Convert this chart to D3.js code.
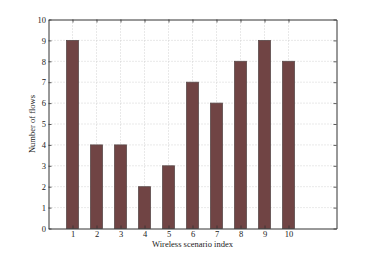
<!DOCTYPE html>
<html><head><meta charset="utf-8">
<script src="https://cdn.jsdelivr.net/npm/d3@7"></script>
<style>body{margin:0;background:#fff;}svg{display:block;}</style>
</head><body>
<script>
const categories = [1,2,3,4,5,6,7,8,9,10];
const flows = [9,4,4,2,3,7,6,8,9,8];
const yTicks = [0,1,2,3,4,5,6,7,8,9,10];
const xLabel = "Wireless scenario index";
const yLabel = "Number of flows";

(function(){
const W = 373, H = 257;
const m = {left:48.5, top:19.5, right:336.5, bottom:228.5};
const svg = d3.select("body").append("svg").attr("width",W).attr("height",H);
const x = d3.scaleLinear().domain([0,12]).range([m.left,m.right]);
const y = d3.scaleLinear().domain([0,10]).range([m.bottom,m.top]);
const font = "Liberation Serif, Times New Roman, serif";

// grid
const g = svg.append("g");
g.selectAll(".vg").data(categories).enter().append("line")
  .attr("x1",d=>x(d)).attr("x2",d=>x(d)).attr("y1",m.top).attr("y2",m.bottom)
  .attr("stroke","#c8c8c8").attr("stroke-width",0.8).attr("stroke-dasharray","1,2");
g.selectAll(".hg").data(yTicks.slice(1,-1)).enter().append("line")
  .attr("x1",m.left).attr("x2",m.right).attr("y1",d=>y(d)).attr("y2",d=>y(d))
  .attr("stroke","#c8c8c8").attr("stroke-width",0.8).attr("stroke-dasharray","1,2");

// bars
svg.selectAll(".bar").data(categories).enter().append("rect")
  .attr("x",(d)=>x(d-0.25)).attr("width",x(0.5)-x(0))
  .attr("y",(d,i)=>y(flows[i])).attr("height",(d,i)=>y(0)-y(flows[i]))
  .attr("fill","#704444").attr("stroke","#5a4a4a").attr("stroke-width",0.8);

// axes (ticks inward)
const tickLen = 3;
const axB = d3.axisBottom(x).tickValues(categories).tickSizeInner(-tickLen).tickSizeOuter(0).tickPadding(2).tickFormat(d3.format("d"));
const axT = d3.axisTop(x).tickValues(categories).tickSizeInner(-tickLen).tickSizeOuter(0).tickFormat("");
const axL = d3.axisLeft(y).tickValues(yTicks).tickSizeInner(-tickLen).tickSizeOuter(0).tickPadding(2.5).tickFormat(d3.format("d"));
const axR = d3.axisRight(y).tickValues(yTicks).tickSizeInner(-tickLen).tickSizeOuter(0).tickFormat("");

function style(sel){
  sel.select(".domain").attr("stroke","#333").attr("stroke-width",1);
  sel.selectAll(".tick line").attr("stroke","#333").attr("stroke-width",0.8);
  sel.selectAll("text").attr("font-family",font).attr("font-size","8.5px").attr("fill","#222");
}
svg.append("g").attr("transform",`translate(0,${m.bottom})`).call(axB).call(style);
svg.append("g").attr("transform",`translate(0,${m.top})`).call(axT).call(style);
svg.append("g").attr("transform",`translate(${m.left},0)`).call(axL).call(style);
svg.append("g").attr("transform",`translate(${m.right},0)`).call(axR).call(style);

svg.append("text").attr("x",(m.left+m.right)/2).attr("y",246.5)
  .attr("text-anchor","middle").attr("font-family",font).attr("font-size","8.5px").attr("fill","#222").text(xLabel);
svg.append("text").attr("transform",`translate(35,${(m.top+m.bottom)/2}) rotate(-90)`)
  .attr("text-anchor","middle").attr("font-family",font).attr("font-size","8.5px").attr("fill","#222").text(yLabel);
})();
</script>
</body></html>
